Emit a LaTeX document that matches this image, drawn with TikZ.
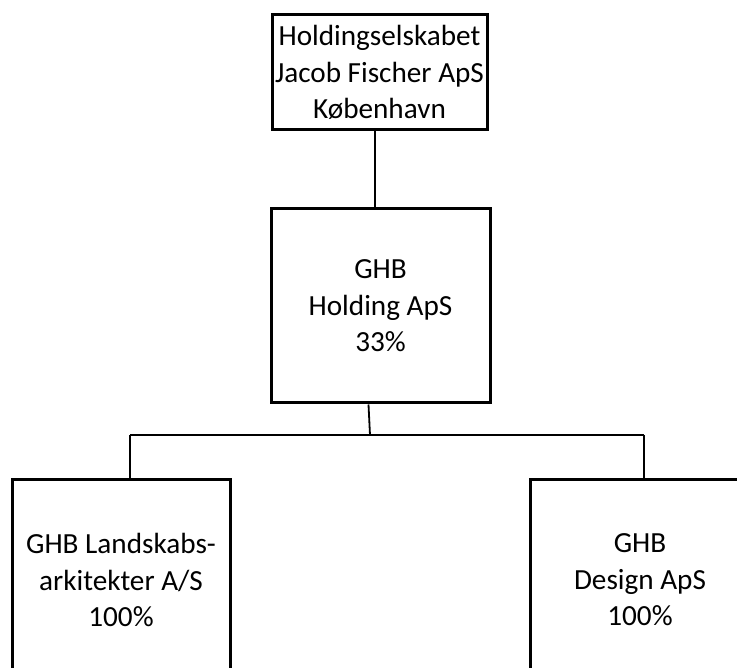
\documentclass[tikz,border=0pt]{standalone}
\usepackage{fontspec}
\setmainfont{Carlito}
\begin{document}
\begin{tikzpicture}[x=1pt,y=-1pt,
    company/.style={draw,line width=3pt,inner sep=0pt,align=center,
      font=\fontsize{29.2}{36.5}\selectfont},
    link/.style={line width=1.8pt}]
  \useasboundingbox (0,0) rectangle (737,668);
  \draw
    (379.5,72.5) node[company,minimum width=215,minimum height=115] (holding){Holdingselskabet\\Jacob Fischer ApS\\København}
    (380.5,306) node[company,minimum width=219,minimum height=194] (ghb){GHB\\Holding ApS\\33\%}
    (121,580) node[company,minimum width=218,minimum height=200] (land){GHB Landskabs-\\arkitekter A/S\\100\%}
    (640,580) node[company,minimum width=220,minimum height=200] (design){GHB\\Design ApS\\100\%};
  \coordinate (busL) at (130,435);
  \coordinate (busM) at (370,435);
  \coordinate (busR) at (644,435);
  \begin{scope}[link]
    \draw ([xshift=-4.5pt]holding.south) to ([xshift=-4.5pt]holding.south |- ghb.north);
    \draw ([xshift=-12pt]ghb.south) to (busM);
    \draw (busL) to (busR);
    \draw (busL) to (busL |- land.north);
    \draw (busR) to (busR |- design.north);
  \end{scope}
\end{tikzpicture}
\end{document}
